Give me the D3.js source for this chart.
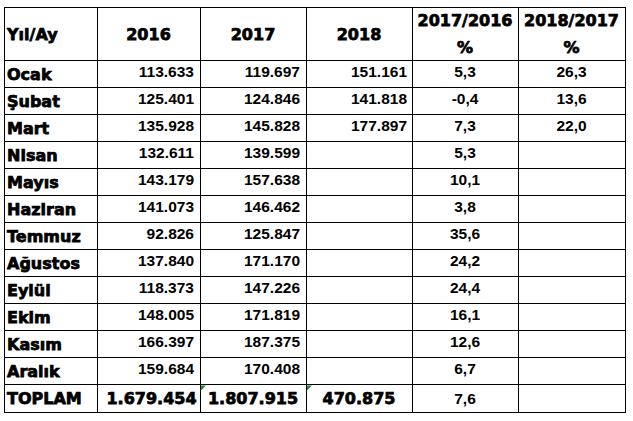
<!DOCTYPE html>
<html><head><meta charset="utf-8">
<script src="https://cdn.jsdelivr.net/npm/d3@7"></script>
<style>body{margin:0;background:#fff;}svg{display:block;}</style>
</head><body><svg id="c" width="633" height="421"></svg>
<script>
// ---- data ----
const headers = ["Yıl/Ay", "2016", "2017", "2018", "2017/2016", "2018/2017"];
const months = ["Ocak","Şubat","Mart","Nisan","Mayıs","Haziran","Temmuz","Ağustos","Eylül","Ekim","Kasım","Aralık"];
const v2016 = [113633,125401,135928,132611,143179,141073,92826,137840,118373,148005,166397,159684];
const v2017 = [119697,124846,145828,139599,157638,146462,125847,171170,147226,171819,187375,170408];
const v2018 = [151161,141818,177897];
const pct1716 = [5.3,-0.4,7.3,5.3,10.1,3.8,35.6,24.2,24.4,16.1,12.6,6.7];
const pct1817 = [26.3,13.6,22.0];
const totalLabel = "TOPLAM";
const totals = [1679454,1807915,470875];
const totalPct = 7.6;

// ---- layout ----
const svg = d3.select("#c");
const locale = d3.formatLocale({decimal:",", thousands:".", grouping:[3], currency:["",""], minus:"-"});
const fInt = locale.format(",d");
const fPct = locale.format(".1f");

const colEdges = [4, 97, 200, 306, 412, 518, 625];
const tableTop = 7, headBottom = 60, tableBottom = 411.5;
const nRows = months.length + 1;
const y = d3.scaleLinear().domain([0, nRows]).range([headBottom, tableBottom]);
const xL = i => colEdges[i], xR = i => colEdges[i+1], xC = i => (colEdges[i]+colEdges[i+1])/2;
const rowMid = i => (y(i)+y(i+1))/2;

const heavy = "'DejaVu Sans', sans-serif";
const normal = "'Liberation Sans', Arial, sans-serif";

svg.append("rect").attr("width",633).attr("height",421).attr("fill","#fff");

// grid
const g = svg.append("g").attr("stroke","#000").attr("stroke-width",1).attr("shape-rendering","crispEdges");
const hLines = [tableTop].concat(d3.range(nRows+1).map(i => y(i)));
g.selectAll("line.h").data(hLines).join("line").attr("class","h")
  .attr("x1", colEdges[0]).attr("x2", colEdges[colEdges.length-1])
  .attr("y1", d => Math.round(d)+0.5).attr("y2", d => Math.round(d)+0.5);
g.selectAll("line.v").data(colEdges).join("line").attr("class","v")
  .attr("x1", d => d+0.5).attr("x2", d => d+0.5)
  .attr("y1", tableTop).attr("y2", Math.round(tableBottom)+1);

function txt(x, yy, s, anchor, bold) {
  const t = svg.append("text").attr("x", x).attr("y", yy).attr("text-anchor", anchor).text(s).attr("fill","#000");
  if (bold) {
    t.attr("font-family", heavy).attr("font-weight","bold").attr("font-size",16)
     .attr("stroke","#000").attr("stroke-width",0.75);
  } else {
    t.attr("font-family", normal).attr("font-weight","bold").attr("font-size",15.5);
  }
  return t;
}

// header
const hMid = (tableTop+headBottom)/2;
txt(xL(0)+3, hMid+6, headers[0], "start", true);
[1,2,3].forEach(i => txt(xC(i), hMid+6, headers[i], "middle", true));
[4,5].forEach(i => {
  txt(xC(i), 26, headers[i], "middle", true);
  txt(xC(i), 53, "%", "middle", true);
});

// month rows
months.forEach((m, i) => {
  const mid = rowMid(i);
  txt(xL(0)+3, mid+6, m, "start", true);
  txt(xR(1)-6, mid+3, fInt(v2016[i]), "end", false);
  txt(xR(2)-6, mid+3, fInt(v2017[i]), "end", false);
  if (i < v2018.length) txt(xR(3)-5, mid+3, fInt(v2018[i]), "end", false);
  txt(xC(4), mid+3, fPct(pct1716[i]), "middle", false);
  if (i < pct1817.length) txt(xC(5), mid+3, fPct(pct1817[i]), "middle", false);
});

// total row
const ti = months.length, tm = rowMid(ti);
txt(xL(0)+3, tm+6.5, totalLabel, "start", true);
totals.forEach((v, k) => txt(xC(k+1)+(k===0?3:0), tm+6.5, fInt(v), "middle", true));
txt(xC(4), tm+6, fPct(totalPct), "middle", false);

// excel green indicators
[2,3].forEach(c => {
  const x0 = xL(c)+1, y0 = y(ti)+1;
  svg.append("path").attr("d", `M${x0},${y0}h5l-5,5z`).attr("fill","#1f8a3a");
});
</script></body></html>
